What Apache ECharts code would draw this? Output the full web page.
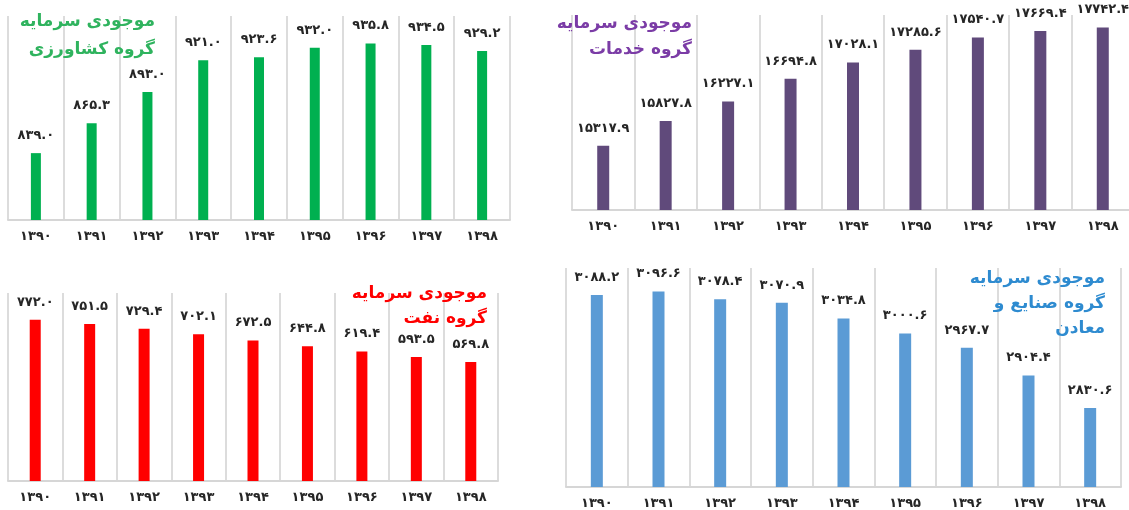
<!DOCTYPE html>
<html>
<head>
<meta charset="utf-8">
<script src="https://cdn.jsdelivr.net/npm/echarts@6/dist/echarts.min.js"></script>
<style>
  html, body { margin: 0; padding: 0; background: #fff; overflow: hidden; }
  #chart { width: 1136px; height: 510px; }
</style>
</head>
<body>
<div id="chart"></div>
<script>
// سال‌ها
const years = ['۱۳۹۰', '۱۳۹۱', '۱۳۹۲', '۱۳۹۳', '۱۳۹۴', '۱۳۹۵', '۱۳۹۶', '۱۳۹۷', '۱۳۹۸'];

// موجودی سرمایه هر گروه
const agriculture = [839.0, 865.3, 893.0, 921.0, 923.6, 932.0, 935.8, 934.5, 929.2];
const services = [15317.9, 15827.8, 16227.1, 16694.8, 17028.1, 17285.6, 17540.7, 17669.4, 17742.4];
const oil = [772.0, 751.5, 729.4, 702.1, 672.5, 644.8, 619.4, 593.5, 569.8];
const industry = [3088.2, 3096.6, 3078.4, 3070.9, 3034.8, 3000.6, 2967.7, 2904.4, 2830.6];

const titles = [
  'موجودی سرمایه\nگروه کشاورزی',
  'موجودی سرمایه\nگروه خدمات',
  'موجودی سرمایه\nگروه نفت',
  'موجودی سرمایه\nگروه صنایع و\nمعادن'
];

const FONT = '"DejaVu Sans", sans-serif';
const faDigits = '۰۱۲۳۴۵۶۷۸۹';
const toFa = s => String(s).replace(/\d/g, d => faDigits[d]);

// جای هر نمودار
const panels = [
  { data: agriculture, color: '#00b050', grid: { left: 8, top: 16, width: 502, height: 204 }, min: 780, max: 960, barWidth: 10,
    title: { x: 155, y: 8, lh: 28, color: '#2fb35e' } },
  { data: services, color: '#604a7b', grid: { left: 572, top: 15, width: 562, height: 195 }, min: 14000, max: 18000, barWidth: 12,
    title: { x: 692, y: 11, lh: 26, color: '#7b3ca6' } },
  { data: oil, color: '#ff0000', grid: { left: 8, top: 293, width: 490, height: 188 }, min: 0, max: 900, barWidth: 11,
    title: { x: 487, y: 281, lh: 25, color: '#ff0000' } },
  { data: industry, color: '#5b9bd5', grid: { left: 566, top: 268, width: 555, height: 220 }, min: 2650, max: 3150, barWidth: 12,
    title: { x: 1105, y: 266, lh: 25, color: '#2e8bd0' } }
];

const chart = echarts.init(document.getElementById('chart'));

const option = {
  animation: false,
  grid: panels.map(p => p.grid),
  xAxis: panels.map((p, i) => ({
    type: 'category',
    gridIndex: i,
    data: years,
    axisLine: { lineStyle: { color: '#d6d6d6', width: 2 } },
    axisTick: { show: false },
    splitLine: { show: true, lineStyle: { color: '#dcdcdc', width: 2 } },
    axisLabel: { color: '#262626', fontFamily: FONT, fontWeight: 'bold', fontSize: 13, margin: 10 }
  })),
  yAxis: panels.map((p, i) => ({
    type: 'value',
    gridIndex: i,
    min: p.min,
    max: p.max,
    show: false
  })),
  series: panels.map((p, i) => ({
    type: 'bar',
    xAxisIndex: i,
    yAxisIndex: i,
    data: p.data,
    barWidth: p.barWidth,
    itemStyle: { color: p.color },
    label: {
      show: true,
      position: 'top',
      distance: 11,
      color: '#262626',
      fontFamily: FONT,
      fontWeight: 'bold',
      fontSize: 13,
      formatter: d => toFa(d.value.toFixed(1))
    }
  })),
  graphic: panels.map((p, i) => ({
    type: 'text',
    x: p.title.x,
    y: p.title.y,
    z: 10,
    style: {
      text: titles[i],
      fill: p.title.color,
      font: 'bold 17px ' + FONT,
      textAlign: 'right',
      textVerticalAlign: 'top',
      lineHeight: p.title.lh
    }
  }))
};

chart.setOption(option);
</script>
</body>
</html>
